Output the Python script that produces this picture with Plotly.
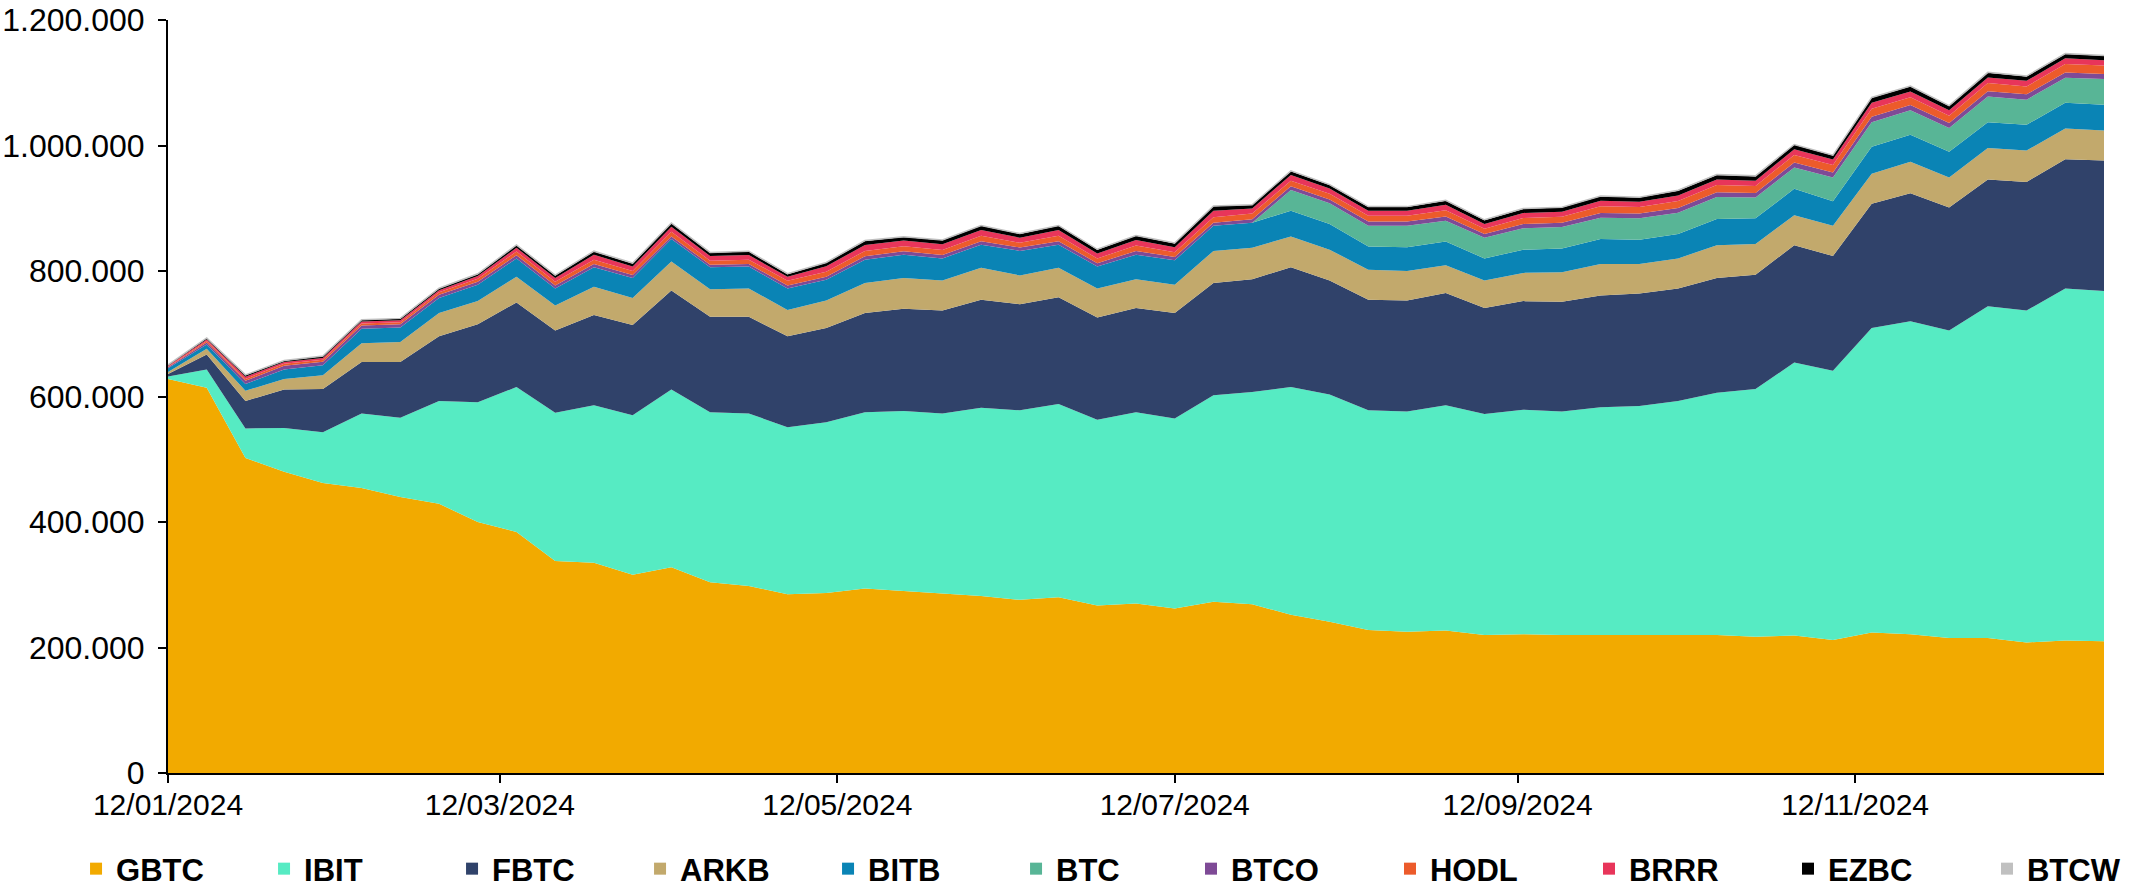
import plotly.graph_objects as go

UNIT = 1000  # values below are in thousands of BTC

dates = ["2024-01-12", "2024-01-19", "2024-01-26", "2024-02-02", "2024-02-09", "2024-02-16",
         "2024-02-23", "2024-03-01", "2024-03-08", "2024-03-15", "2024-03-22", "2024-03-29",
         "2024-04-05", "2024-04-12", "2024-04-19", "2024-04-26", "2024-05-03", "2024-05-10",
         "2024-05-17", "2024-05-24", "2024-05-31", "2024-06-07", "2024-06-14", "2024-06-21",
         "2024-06-28", "2024-07-05", "2024-07-12", "2024-07-19", "2024-07-26", "2024-08-02",
         "2024-08-09", "2024-08-16", "2024-08-23", "2024-08-30", "2024-09-06", "2024-09-13",
         "2024-09-20", "2024-09-27", "2024-10-04", "2024-10-11", "2024-10-18", "2024-10-25",
         "2024-11-01", "2024-11-08", "2024-11-15", "2024-11-22", "2024-11-29", "2024-12-06",
         "2024-12-13", "2024-12-20", "2024-12-27"]

GBTC = [628, 614, 502, 480, 462, 454, 440, 429, 400, 384, 338, 335, 316, 328, 304, 298, 285,
        287, 294, 290, 285, 282, 276, 280, 267, 270, 262, 273, 269, 252, 241, 228, 225, 227,
        220, 221, 220, 220, 219, 220, 220, 217, 219, 212, 224, 221, 215, 215, 208, 211, 210]
IBIT = [4, 29, 47, 70, 81, 119, 126, 164, 191, 231, 236, 251, 254, 283, 271, 275, 266, 272,
        281, 287, 288, 300, 302, 308, 296, 305, 303, 329, 338, 363, 362, 350, 351, 359, 352,
        358, 356, 363, 366, 373, 386, 395, 435, 429, 485, 499, 490, 529, 529, 561, 558]
FBTC = [4, 24, 44, 61, 69, 82, 89, 103, 124, 135, 131, 144, 144, 158, 152, 154, 145, 150,
        158, 163, 164, 172, 169, 170, 163, 166, 168, 179, 180, 191, 182, 176, 177, 179, 169,
        173, 175, 178, 179, 179, 183, 182, 187, 183, 198, 204, 196, 202, 205, 206, 208]
ARKB = [3, 9, 16, 17, 22, 30, 32, 37, 37, 41, 40, 45, 43, 46, 44, 45, 42, 44, 48, 49, 48,
        51, 46, 47, 46, 46, 45, 51, 50, 49, 49, 48, 47, 44, 44, 45, 47, 50, 47, 48, 52, 49,
        48, 48, 48, 50, 48, 50, 50, 49, 48]
BITB = [6, 7, 11, 15, 16, 23, 23, 24, 26, 29, 27, 31, 32, 36, 35, 35, 34, 33, 37, 37, 35,
        37, 39, 37, 35, 39, 39, 40, 40, 41, 41, 37, 38, 38, 35, 37, 38, 40, 39, 39, 42, 41,
        42, 39, 43, 43, 41, 41, 41, 41, 41]
BTC = [0, 0, 0, 0, 0, 0, 0, 0, 0, 0, 0, 0, 0, 0, 0, 0, 0, 0, 0, 0, 0, 0, 0, 0, 0, 0, 0, 0,
       0, 33, 33, 33, 34, 33, 33, 34, 34, 34, 34, 34, 35, 33, 34, 38, 39, 39, 38, 41, 40, 40, 41]
BTCO = [1.5, 3, 5, 6, 5.5, 5, 5, 5, 5, 5, 5, 5, 4.5, 4, 4, 4, 5, 5, 5.5, 5.5, 5.5, 5.5, 5.5,
        5.5, 5.5, 6, 5.5, 5, 5.5, 6, 6, 7, 7, 7, 6, 7, 7, 7.5, 7.5, 7.5, 7.5, 7.5, 8, 8, 9,
        8.5, 8, 8.5, 8.5, 8.5, 8]
HODL = [1, 2.5, 3, 3, 3, 3.5, 3.5, 4, 4.5, 6, 6, 7, 6.5, 7.5, 6.5, 7, 7.5, 8, 8.5, 8, 8,
        8.5, 7.5, 8.5, 7.5, 8.5, 7.5, 8.5, 9, 9, 9, 9, 9, 10, 8.5, 9.5, 9.5, 10.5, 10.5, 11,
        11.5, 11, 12, 12, 12.5, 12.5, 11.5, 13, 12.5, 13.5, 13.5]
BRRR = [1.5, 2.5, 3.5, 3, 3, 3, 3, 3.5, 4.5, 6, 6, 8, 7, 8, 7.5, 7.5, 6.5, 8.5, 9.5, 9, 9,
        9.5, 8, 9.5, 8, 9, 8, 10.5, 8, 9, 8.5, 8, 8, 8.5, 7.5, 8, 8, 9, 8.5, 9, 9, 8.5, 9,
        8.5, 9.5, 9, 8.5, 9, 9, 9, 8.5]
EZBC = [1, 2, 2.5, 2, 2.5, 2.5, 2.5, 2.5, 3, 4, 4, 5, 5, 5.5, 5, 5.5, 4, 5.5, 6.5, 5.5, 6.5,
        6.5, 6, 6.5, 6, 6.5, 6, 7, 5.5, 6, 5.5, 6, 6, 6.5, 6, 6.5, 6.5, 7, 6.5, 7.5, 7, 7, 7,
        6.5, 8, 8, 7, 7.5, 7, 7, 7]
BTCW = [0.2, 0.3, 0.4, 0.4, 0.4, 0.5, 0.5, 0.5, 0.5, 0.6, 0.6, 0.6, 0.6, 0.6, 0.6, 0.6, 0.6,
        0.6, 0.6, 0.6, 0.6, 0.6, 0.6, 0.6, 0.6, 0.6, 0.6, 0.6, 0.6, 0.6, 0.6, 0.6, 0.6, 0.6,
        0.6, 0.6, 0.6, 0.6, 0.6, 0.6, 0.6, 0.6, 0.6, 0.6, 0.6, 0.6, 0.6, 0.6, 0.6, 0.6, 0.6]

series = [
    ("GBTC", GBTC, "#F2AA00"),
    ("IBIT", IBIT, "#56EBC3"),
    ("FBTC", FBTC, "#30426A"),
    ("ARKB", ARKB, "#C2A96C"),
    ("BITB", BITB, "#0A84B5"),
    ("BTC", BTC, "#58B596"),
    ("BTCO", BTCO, "#7E4A96"),
    ("HODL", HODL, "#EC5B2B"),
    ("BRRR", BRRR, "#E8355A"),
    ("EZBC", EZBC, "#000000"),
    ("BTCW", BTCW, "#C0C0C0"),
]

tick_dates = ["2024-01-12", "2024-03-12", "2024-05-12", "2024-07-12", "2024-09-12", "2024-11-12"]

FONT = "Liberation Sans, Arial, sans-serif"

fig = go.Figure()
for name, vals, color in series:
    lw = 1.5 if name == "BTCW" else 0
    fig.add_trace(go.Scatter(
        x=dates, y=[v * UNIT for v in vals], name=name, mode="lines",
        stackgroup="one", line=dict(width=lw, color=color), fillcolor=color,
        showlegend=False, hoverinfo="skip"))
for i, (name, vals, color) in enumerate(series):
    fig.add_trace(go.Scatter(
        x=[None], y=[None], name=name, mode="markers",
        marker=dict(symbol="square", size=18, color=color), showlegend=True,
        legend="legend" if i < 6 else "legend2"))

legend_font = dict(family=FONT, size=31, color="black", weight="bold")
fig.update_layout(
    width=2138, height=887,
    margin=dict(l=168, r=34, t=20, b=114, autoexpand=False),
    plot_bgcolor="white", paper_bgcolor="white",
    separators=",.",
    font=dict(family=FONT, size=32, color="black"),
    legend=dict(orientation="h", x=-0.0475, xanchor="left", y=-0.1275, yanchor="middle",
                entrywidth=143, entrywidthmode="pixels", itemsizing="constant",
                traceorder="normal", font=legend_font, bgcolor="rgba(0,0,0,0)"),
    legend2=dict(orientation="h", x=0.5284, xanchor="left", y=-0.1275, yanchor="middle",
                 entrywidth=154, entrywidthmode="pixels", itemsizing="constant",
                 traceorder="normal", font=legend_font, bgcolor="rgba(0,0,0,0)"),
    xaxis=dict(type="date", range=[dates[0], dates[-1]], tickvals=tick_dates,
               tickformat="%d/%m/%Y", showline=True, linecolor="black", linewidth=2,
               ticks="outside", ticklen=8, tickwidth=1.5, tickcolor="black",
               showgrid=False, zeroline=False, ticklabelstandoff=-4, automargin=False,
               tickfont=dict(family=FONT, size=30, color="black")),
    yaxis=dict(range=[0, 1200000], dtick=200000, tickformat=",d", showline=True,
               linecolor="black", linewidth=2, ticks="outside", ticklen=8, tickwidth=1.5,
               tickcolor="black", showgrid=False, zeroline=False, ticklabelstandoff=7,
               automargin=False, tickfont=dict(family=FONT, size=32, color="black")),
)

fig.write_html("out.html", config={"displayModeBar": False},
               post_script="document.body.style.margin='0';document.body.style.overflow='hidden';")
